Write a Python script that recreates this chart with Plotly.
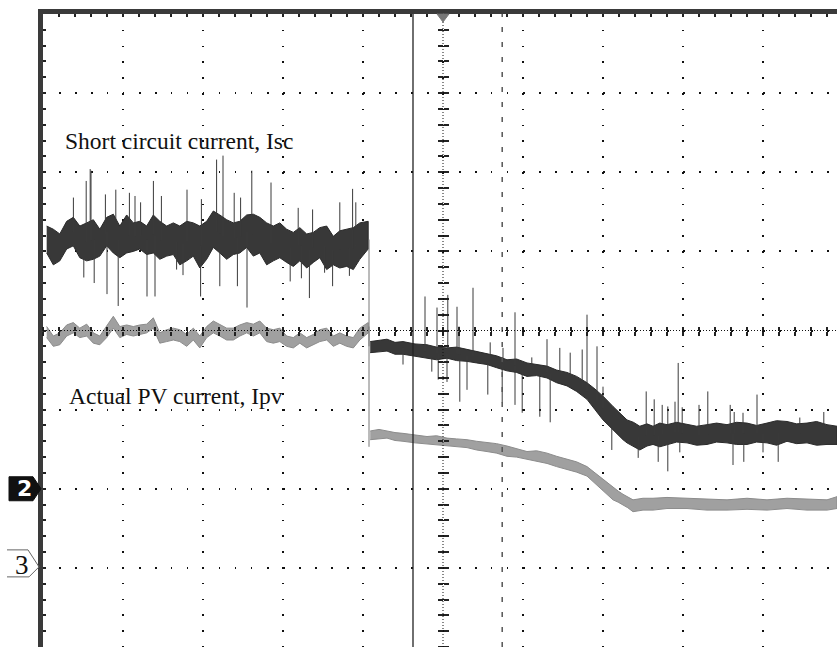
import numpy as np
import plotly.graph_objects as go

# Screen units: horizontal in time divisions (0..10, right edge clipped), vertical in divisions (centre = 0)
X_RANGE = [0, 9.925]
Y_RANGE = [-4, 4]
CURSOR_SOLID = 4.625
CURSOR_DASHED = 5.74
CH2_LEVEL = -2
CH3_LEVEL = -3

# ---- Short circuit current, Isc (dark trace) ----
isc_pre_x = [0.046, 0.129, 0.21, 0.296, 0.379, 0.46, 0.546, 0.629, 0.71, 0.796, 0.879, 0.96, 1.046, 1.129, 1.21,
             1.296, 1.379, 1.46, 1.546, 1.629, 1.71, 1.796, 1.879, 1.96, 2.046, 2.129, 2.21, 2.296, 2.379, 2.46,
             2.546, 2.629, 2.71, 2.796, 2.879, 2.96, 3.046, 3.129, 3.21, 3.296, 3.379, 3.46, 3.546, 3.629, 3.71,
             3.796, 3.879, 3.96, 4.065]
isc_pre_hi = [1.32, 1.28, 1.22, 1.38, 1.43, 1.32, 1.36, 1.40, 1.28, 1.43, 1.47, 1.32, 1.46, 1.36, 1.38, 1.32, 1.46,
              1.38, 1.32, 1.36, 1.32, 1.38, 1.36, 1.32, 1.38, 1.51, 1.46, 1.40, 1.36, 1.38, 1.46, 1.47, 1.43, 1.36,
              1.32, 1.36, 1.28, 1.24, 1.30, 1.22, 1.24, 1.30, 1.32, 1.19, 1.26, 1.28, 1.30, 1.36, 1.38]
isc_pre_lo = [0.98, 0.83, 0.88, 1.03, 1.07, 0.92, 0.88, 0.90, 0.94, 1.07, 0.98, 0.92, 0.98, 1.00, 1.03, 0.96, 0.98,
              0.90, 0.94, 0.96, 0.83, 0.88, 0.94, 0.79, 0.90, 1.05, 0.98, 0.90, 0.96, 0.98, 1.05, 0.94, 0.98, 0.83,
              0.88, 0.92, 0.86, 0.81, 0.88, 0.79, 0.86, 0.92, 0.77, 0.83, 0.79, 0.81, 0.77, 0.90, 1.03]

isc_post_x = [4.09, 4.20, 4.30, 4.40, 4.50, 4.65, 4.80, 4.92, 5.05, 5.17, 5.30, 5.42, 5.55, 5.67, 5.80, 5.92, 6.05,
              6.17, 6.30, 6.42, 6.55, 6.67, 6.80, 6.90, 7.00, 7.125, 7.25, 7.30, 7.38, 7.46, 7.55, 7.625, 7.71, 7.80,
              7.92, 8.05, 8.17, 8.30, 8.42, 8.55, 8.67, 8.80, 8.92, 9.05, 9.17, 9.30, 9.42, 9.55, 9.67, 9.80, 9.925]
isc_post_hi = [-0.14, -0.12, -0.11, -0.15, -0.14, -0.17, -0.18, -0.21, -0.22, -0.21, -0.24, -0.27, -0.30, -0.32,
               -0.37, -0.36, -0.41, -0.43, -0.45, -0.50, -0.53, -0.58, -0.66, -0.74, -0.83, -0.96, -1.08, -1.13,
               -1.16, -1.21, -1.18, -1.21, -1.17, -1.19, -1.16, -1.19, -1.21, -1.19, -1.17, -1.19, -1.16, -1.17,
               -1.20, -1.17, -1.14, -1.15, -1.18, -1.17, -1.15, -1.19, -1.21]
isc_post_lo = [-0.28, -0.27, -0.26, -0.30, -0.30, -0.33, -0.35, -0.37, -0.35, -0.38, -0.39, -0.41, -0.43, -0.47,
               -0.51, -0.53, -0.58, -0.57, -0.60, -0.66, -0.70, -0.77, -0.87, -1.00, -1.13, -1.25, -1.38, -1.42,
               -1.47, -1.51, -1.46, -1.44, -1.47, -1.44, -1.41, -1.42, -1.45, -1.44, -1.41, -1.42, -1.44, -1.44,
               -1.41, -1.42, -1.45, -1.40, -1.43, -1.42, -1.45, -1.44, -1.44]

isc_spike_x = [0.38, 0.54, 0.59, 0.60, 0.78, 0.91, 1.08, 1.15, 1.22, 1.38, 1.48, 1.80, 1.98, 2.17, 2.25, 2.39, 2.47,
               2.61, 2.85, 3.19, 3.37, 3.71, 3.87, 3.91,
               4.775, 4.925, 5.06, 5.175, 5.20, 5.375, 5.59, 5.75, 5.90, 6.11, 6.30, 6.46, 6.59, 6.74, 6.80, 6.925,
               7.00, 7.54, 7.64, 7.74, 7.81, 7.90, 7.94, 7.99, 8.20, 8.31, 8.59, 8.64, 8.75, 8.925, 9.46, 9.76,
               0.51, 0.64, 0.80, 0.94, 1.30, 1.40, 1.67, 1.75, 1.97, 2.21, 2.43, 2.55, 3.09, 3.23, 3.33, 3.52, 3.62,
               3.83,
               4.50, 4.86, 4.94, 5.05, 5.21, 5.30, 5.56, 5.74, 5.90, 5.99, 6.21, 6.34, 7.11,
               7.44, 7.69, 7.81, 7.96, 8.625, 8.76, 9.00, 9.19]
isc_spike_tip = [1.68, 1.89, 2.04, 2.02, 1.72, 1.78, 1.74, 1.70, 1.62, 1.89, 1.70, 1.78, 1.66, 2.16, 2.21, 1.74, 1.68,
                 2.02, 1.87, 1.55, 1.53, 1.62, 1.79, 1.62,
                 0.43, 0.29, 0.45, 0.30, 0.05, 0.54, -0.15, -0.22, 0.23, -0.34, -0.11, -0.22, -0.28, -0.24, 0.20, -0.20,
                 -0.71, -0.77, -0.87, -0.94, -0.96, -0.90, -0.41, -0.97, -0.94, -0.77, -0.94, -1.03, -1.04, -0.81, -1.10,
                 -1.03,
                 0.67, 0.60, 0.46, 0.31, 0.43, 0.43, 0.77, 0.70, 0.43, 0.56, 0.56, 0.29, 0.62, 0.66, 0.41, 0.73, 0.56,
                 0.69,
                 -0.43, -0.52, -0.62, -0.65, -0.90, -0.75, -0.81, -0.91, -0.94, -1.04, -1.09, -1.16, -1.51,
                 -1.61, -1.66, -1.78, -1.54, -1.70, -1.66, -1.54, -1.66]

# ---- Actual PV current, Ipv (grey trace) ----
ipv_pre_x = isc_pre_x
ipv_pre_hi = [0.05, -0.07, -0.03, 0.07, 0.10, 0.03, 0.08, -0.03, -0.07, 0.05, 0.18, 0.05, 0.07, 0.05, 0.07, 0.08,
              0.16, -0.03, 0.01, 0.03, 0.01, -0.05, 0.03, -0.07, 0.05, 0.12, 0.08, 0.03, 0.03, 0.07, 0.10, 0.08, 0.12,
              0.03, 0.01, 0.03, -0.07, -0.09, -0.03, -0.09, -0.05, 0.01, 0.03, -0.07, -0.03, -0.07, -0.09, 0.03, 0.10]
ipv_pre_lo = [-0.09, -0.20, -0.18, -0.07, -0.03, -0.09, -0.07, -0.16, -0.18, -0.09, 0.03, -0.09, -0.05, -0.07, -0.05,
              -0.03, 0.03, -0.16, -0.14, -0.12, -0.14, -0.20, -0.12, -0.22, -0.09, -0.03, -0.07, -0.12, -0.12, -0.07,
              -0.03, -0.07, -0.03, -0.14, -0.16, -0.14, -0.20, -0.22, -0.16, -0.22, -0.18, -0.14, -0.12, -0.20, -0.16,
              -0.20, -0.22, -0.12, -0.03]

ipv_post_x = [4.09, 4.20, 4.30, 4.40, 4.50, 4.65, 4.80, 4.92, 5.05, 5.17, 5.30, 5.42, 5.55, 5.67, 5.80, 5.92, 6.05,
              6.17, 6.30, 6.42, 6.55, 6.67, 6.80, 6.90, 7.00, 7.06, 7.125, 7.19, 7.25, 7.31, 7.375, 7.50, 7.625, 7.80,
              8.05, 8.30, 8.55, 8.80, 9.05, 9.30, 9.55, 9.80, 9.925]
ipv_post_hi = [-1.27, -1.25, -1.27, -1.29, -1.30, -1.32, -1.34, -1.33, -1.36, -1.37, -1.38, -1.40, -1.42, -1.43,
               -1.46, -1.49, -1.53, -1.52, -1.55, -1.59, -1.63, -1.66, -1.72, -1.80, -1.88, -1.93, -1.99, -2.03,
               -2.07, -2.10, -2.14, -2.12, -2.12, -2.11, -2.12, -2.13, -2.14, -2.12, -2.14, -2.12, -2.13, -2.14, -2.10]
ipv_post_lo = [-1.38, -1.37, -1.36, -1.39, -1.40, -1.42, -1.44, -1.45, -1.46, -1.47, -1.48, -1.51, -1.53, -1.55,
               -1.59, -1.60, -1.63, -1.65, -1.68, -1.72, -1.76, -1.79, -1.84, -1.94, -2.03, -2.08, -2.14, -2.17,
               -2.20, -2.24, -2.29, -2.27, -2.27, -2.25, -2.25, -2.27, -2.27, -2.26, -2.27, -2.25, -2.27, -2.27, -2.25]

# step edge (both channels change at the same instant)
step_x = 4.075
step_top = [1.15, 0.05]
step_bottom = [-0.20, -1.47]

labels = ["Short circuit current, Isc", "Actual PV current, Ipv"]
label_pos = [(0.25, 2.40), (0.30, -0.83)]

ISC_COLOR = "#383838"
IPV_COLOR = "#a0a0a0"

fig = go.Figure()


def add_band(x, hi, lo, color, edge):
    xs = list(x) + list(x)[::-1]
    ys = list(hi) + list(lo)[::-1]
    fig.add_trace(go.Scatter(x=xs, y=ys, mode="lines", fill="toself", fillcolor=color,
                             line=dict(color=edge, width=1), hoverinfo="skip", showlegend=False))


add_band(ipv_pre_x, ipv_pre_hi, ipv_pre_lo, IPV_COLOR, "#8c8c8c")
add_band(ipv_post_x, ipv_post_hi, ipv_post_lo, IPV_COLOR, "#8c8c8c")
add_band(isc_pre_x, isc_pre_hi, isc_pre_lo, ISC_COLOR, "#2a2a2a")
add_band(isc_post_x, isc_post_hi, isc_post_lo, ISC_COLOR, "#2a2a2a")

# spikes drawn from the band centre to the tip
mid_x = isc_pre_x + isc_post_x
mid_y = [(a + b) / 2 for a, b in zip(isc_pre_hi + isc_post_hi, isc_pre_lo + isc_post_lo)]
sx, sy = [], []
for x, t in zip(isc_spike_x, isc_spike_tip):
    sx += [x, x, None]
    sy += [float(np.interp(x, mid_x, mid_y)), t, None]
fig.add_trace(go.Scatter(x=sx, y=sy, mode="lines", line=dict(color="#3a3a3a", width=1),
                         hoverinfo="skip", showlegend=False))

# step edge
fig.add_trace(go.Scatter(x=[step_x, step_x, None, step_x, step_x],
                         y=[step_top[0], step_bottom[0], None, step_top[1], step_bottom[1]],
                         mode="lines", line=dict(color="#777", width=1), hoverinfo="skip", showlegend=False))

# empty traces so the centre graticule axes get drawn
for xa, ya in [("x2", "y"), ("x3", "y"), ("x", "y2"), ("x", "y3")]:
    fig.add_trace(go.Scatter(x=[None], y=[None], xaxis=xa, yaxis=ya, showlegend=False, hoverinfo="skip"))

# cursors and centre lines
fig.add_shape(type="line", xref="x", yref="paper", x0=CURSOR_SOLID, x1=CURSOR_SOLID, y0=0, y1=1,
              line=dict(color="#222", width=1.3))
fig.add_shape(type="line", xref="x", yref="paper", x0=CURSOR_DASHED, x1=CURSOR_DASHED, y0=0, y1=1,
              line=dict(color="#555", width=1.5, dash="5px,10px"))
centre_x = X_RANGE[0] + 5
fig.add_shape(type="line", xref="x", yref="paper", x0=centre_x, x1=centre_x, y0=0, y1=1,
              line=dict(color="#111", width=1, dash="1px,2px"))
fig.add_shape(type="line", xref="paper", yref="y", x0=0, x1=1, y0=0, y1=0,
              line=dict(color="#111", width=1, dash="1px,2px"))

ysp = Y_RANGE[1] - Y_RANGE[0]
xsp = X_RANGE[1] - X_RANGE[0]
ch2_paper = (CH2_LEVEL - Y_RANGE[0]) / ysp
ch3_paper = (CH3_LEVEL - Y_RANGE[0]) / ysp
centre_paper_x = (centre_x - X_RANGE[0]) / xsp

# channel markers on the left
fig.add_shape(type="path", xref="paper", yref="paper", xsizemode="pixel", ysizemode="pixel",
              xanchor=0, yanchor=ch2_paper,
              path="M -34,12 L -10,12 L -2,0 L -10,-12 L -34,-12 Z",
              fillcolor="#111", line=dict(color="#111", width=1))
fig.add_shape(type="path", xref="paper", yref="paper", xsizemode="pixel", ysizemode="pixel",
              xanchor=0, yanchor=ch3_paper,
              path="M -36,18 L -15,18 L -4,1 L -14,-9 L -36,-9",
              line=dict(color="#666", width=1))
# trigger marker on top
fig.add_shape(type="path", xref="paper", yref="paper", xsizemode="pixel", ysizemode="pixel",
              xanchor=centre_paper_x, yanchor=1,
              path="M -6,0 L 6,0 L 0,-8 Z", fillcolor="#777", line=dict(color="#777", width=1))

fig.add_annotation(x=0, y=ch2_paper, xref="paper", yref="paper", xanchor="center", yanchor="middle",
                   xshift=-19, yshift=0, text="<b>2</b>", showarrow=False,
                   font=dict(family="DejaVu Sans", size=22, color="white"))
fig.add_annotation(x=0, y=ch3_paper, xref="paper", yref="paper", xanchor="center", yanchor="middle",
                   xshift=-21, yshift=3, text="3", showarrow=False,
                   font=dict(family="Liberation Serif", size=27, color="#111"))

for txt, (lx, ly) in zip(labels, label_pos):
    fig.add_annotation(x=lx, y=ly, xref="x", yref="y", xanchor="left", yanchor="middle", text=txt,
                       showarrow=False, font=dict(family="Liberation Serif", size=23.5, color="#111"))

tick_common = dict(showticklabels=False, zeroline=False, showgrid=False, showline=False)
fig.update_layout(
    width=837, height=647,
    margin=dict(l=43, r=0, t=14, b=0),
    paper_bgcolor="white", plot_bgcolor="white",
    showlegend=False,
    xaxis=dict(range=X_RANGE, side="top", showline=True, linewidth=5, linecolor="#3a3a3a",
               showticklabels=False, zeroline=False, tick0=0, dtick=1,
               ticks="inside", ticklen=3, tickwidth=1.5, tickcolor="#222",
               showgrid=True, gridcolor="#111", gridwidth=1.5, griddash="1.5px,14.3px",
               minor=dict(dtick=0.2, tick0=0, ticks="inside", ticklen=3, tickwidth=1.5, tickcolor="#222",
                          showgrid=False)),
    yaxis=dict(range=Y_RANGE, showline=True, linewidth=5, linecolor="#3a3a3a",
               showticklabels=False, zeroline=False, tick0=0, dtick=1,
               ticks="inside", ticklen=3, tickwidth=1.5, tickcolor="#222",
               showgrid=True, gridcolor="#111", gridwidth=1.5, griddash="1.5px,14.5px",
               minor=dict(dtick=0.2, tick0=0, ticks="inside", ticklen=3, tickwidth=1.5, tickcolor="#222",
                          showgrid=False)),
    xaxis2=dict(range=X_RANGE, overlaying="x", anchor="free", position=0.5, side="bottom",
                ticks="outside", ticklen=4, tickwidth=1.5, tickcolor="#222", tick0=0, dtick=0.2, **tick_common),
    xaxis3=dict(range=X_RANGE, overlaying="x", anchor="free", position=0.5, side="top",
                ticks="outside", ticklen=4, tickwidth=1.5, tickcolor="#222", tick0=0, dtick=0.2, **tick_common),
    yaxis2=dict(range=Y_RANGE, overlaying="y", anchor="free", position=centre_paper_x, side="left",
                ticks="outside", ticklen=5, tickwidth=1.5, tickcolor="#222", tick0=0, dtick=0.2, **tick_common),
    yaxis3=dict(range=Y_RANGE, overlaying="y", anchor="free", position=centre_paper_x, side="right",
                ticks="outside", ticklen=5, tickwidth=1.5, tickcolor="#222", tick0=0, dtick=0.2, **tick_common),
)

fig.write_html("out.html")
